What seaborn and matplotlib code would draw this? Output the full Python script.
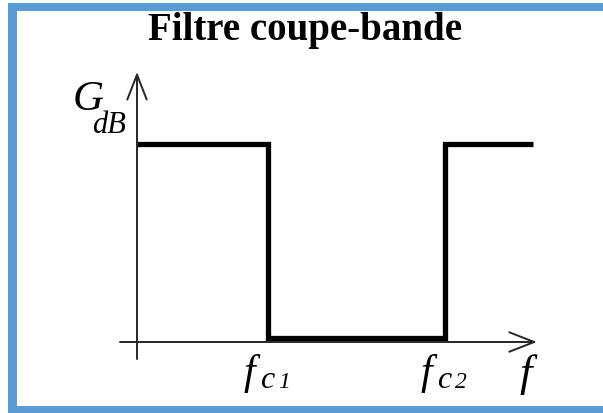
import matplotlib
matplotlib.use('Agg')
import matplotlib.pyplot as plt
from matplotlib.patches import Rectangle
import seaborn as sns
import pandas as pd

# Gabarit ideal du filtre coupe-bande (unites arbitraires)
f_c1 = 1.0
f_c2 = 2.35
f_end = 3.02
g_pass = 1.0
g_stop = 0.02

freq = [0.0, f_c1, f_c1, f_c2, f_c2, f_end]
gain = [g_pass, g_pass, g_stop, g_stop, g_pass, g_pass]

# Etendue des axes flechés
f_axis = (-0.13, 3.053)
g_axis = (-0.086, 1.364)

title = 'Filtre coupe-bande'
border_color = '#5b9bd5'
serif = ['Liberation Serif', 'DejaVu Serif']


def plot_bandstop(save_path='out.png'):
    sns.set_style('white')
    plt.rcParams['font.family'] = serif
    plt.rcParams['text.color'] = 'black'

    fig = plt.figure(figsize=(6.03, 4.14), dpi=100)
    ax = fig.add_axes([0, 0, 1, 1])
    ax.set_axis_off()
    ax.set_xlim(-137 / 131, 466 / 131)
    ax.set_ylim(-71 / 198, 343 / 198)

    # Axes with open arrow heads
    arrow = dict(arrowstyle='->,head_length=0.9,head_width=0.35',
                 lw=1.4, color='#262626', mutation_scale=20,
                 shrinkA=0, shrinkB=0)
    ax.annotate('', xy=(f_axis[1], 0), xytext=(f_axis[0], 0), arrowprops=arrow)
    ax.annotate('', xy=(0, g_axis[1]), xytext=(0, g_axis[0]), arrowprops=arrow)

    # Step response
    df = pd.DataFrame({'f': freq, 'G': gain})
    sns.lineplot(data=df, x='f', y='G', sort=False, estimator=None,
                 color='black', lw=3.8, ax=ax)
    ax.lines[-1].set_solid_joinstyle('miter')
    ax.lines[-1].set_solid_capstyle('butt')

    # Labels
    def label(txt, xy, dx, dy, size):
        ax.annotate(txt, xy=xy, xytext=(dx, dy), textcoords='offset pixels',
                    ha='left', va='baseline', fontsize=size, style='italic',
                    family=serif, color='black')

    label('G', (0, g_pass), -64, 35, 31)
    label('dB', (0, g_pass), -45, 12, 22)
    for fc, digit in [(f_c1, '1'), (f_c2, '2')]:
        label('f', (fc, 0), -24, -41, 30)
        label('c', (fc, 0), -8, -45, 23)
        label(digit, (fc, 0), 10, -45, 17)
    label('f', (f_axis[1], 0), -17, -43, 32)

    fig.text(305 / 603, 1 - 40 / 414, title, ha='center', va='baseline',
             fontsize=28, weight='bold', family=serif, color='black')

    # Blue frame
    H, W = 414, 603
    for x0, y0, w, h in [(8, 4, W - 8, 8), (8, 4, 9, H - 4), (8, 407, W - 8, 7)]:
        fig.add_artist(Rectangle((x0 / W, 1 - (y0 + h) / H), w / W, h / H,
                                 transform=fig.transFigure, color=border_color,
                                 lw=0))

    fig.savefig(save_path, dpi=100)
    return fig


if __name__ == '__main__':
    plot_bandstop()
